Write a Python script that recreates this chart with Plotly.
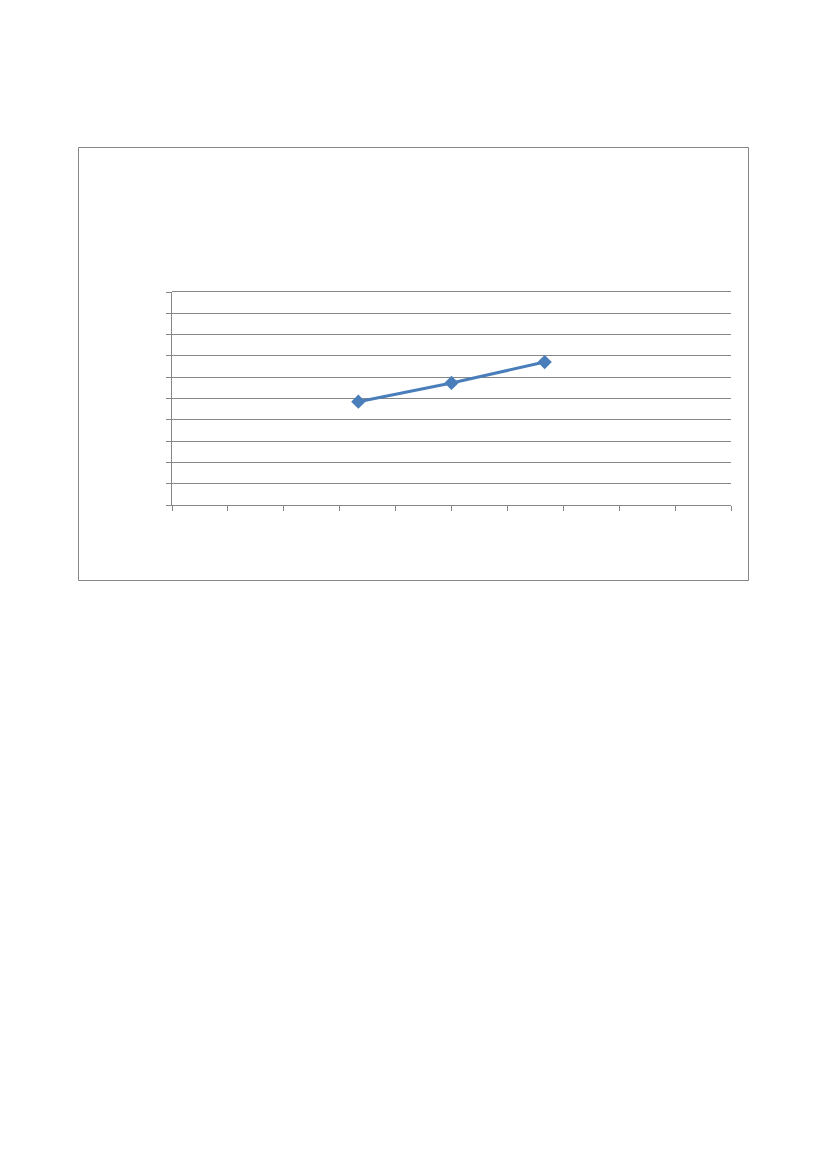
import plotly.graph_objects as go

# values (no labels shown in the reference)
x_vals = [1.0, 1.5, 2.0]
y_vals = [4.85, 5.73, 6.71]

x_range = [0, 3]
y_range = [0, 10]

# page body has an 8px margin, so the figure sits at (8, 8)
W, H = 811, 1153
left, right, top, bottom = 164, 723, 284, 497
grey = '#868686'

fig = go.Figure()
fig.add_trace(go.Scatter(
    x=x_vals, y=y_vals, mode='lines+markers',
    line=dict(color='#4A7EBB', width=3),
    marker=dict(symbol='diamond', size=11, color='#4A7EBB'),
    showlegend=False,
))

pw = right - left
ph = bottom - top
# outer chart frame, in paper units
fig.add_shape(type='rect', xref='paper', yref='paper',
              x0=(70.5 - left) / pw, x1=(740.5 - left) / pw,
              y0=(bottom - 572.5) / ph, y1=(bottom - 139.5) / ph,
              line=dict(color=grey, width=1), fillcolor='rgba(0,0,0,0)')
# top gridline (plotly skips the grid line sitting on the range edge)
fig.add_shape(type='line', xref='paper', yref='paper', x0=0, x1=1,
              y0=1 + 0.5 / ph, y1=1 + 0.5 / ph,
              line=dict(color=grey, width=1), layer='below')

fig.update_xaxes(range=x_range, dtick=0.3, tick0=0, showgrid=False,
                 showticklabels=False, ticks='outside', ticklen=5,
                 tickcolor=grey, showline=True, linecolor=grey, linewidth=1,
                 zeroline=False)
fig.update_yaxes(range=y_range, dtick=1, tick0=0, showgrid=True, gridcolor=grey,
                 gridwidth=1, showticklabels=False, ticks='outside', ticklen=5,
                 tickcolor=grey, showline=True, linecolor=grey, linewidth=1,
                 zeroline=False)

fig.update_layout(
    width=W, height=H,
    margin=dict(l=left, r=W - right, t=top, b=H - bottom),
    paper_bgcolor='white', plot_bgcolor='white',
)

fig.write_html("out.html")
